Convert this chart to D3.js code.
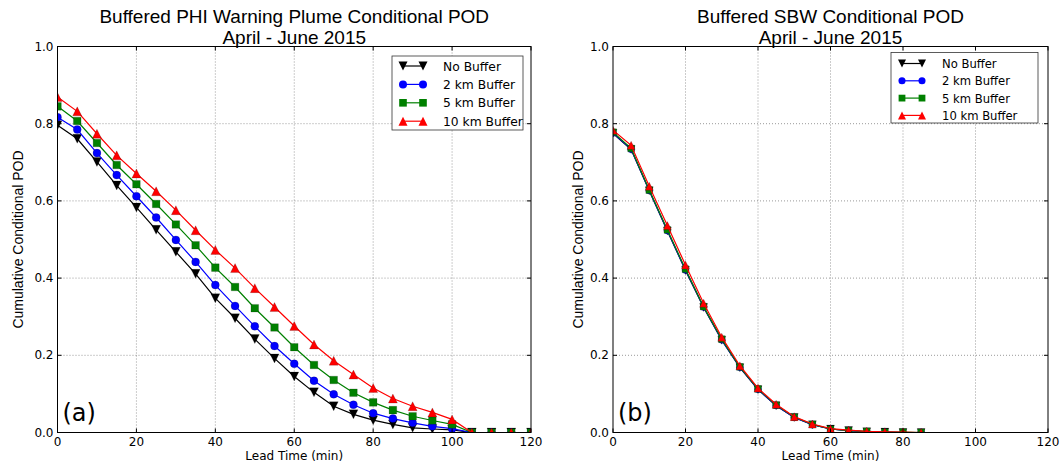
<!DOCTYPE html>
<html>
<head>
<meta charset="utf-8">
<script src="https://cdn.jsdelivr.net/npm/d3@7"></script>
<style>
    body { margin: 0; background: #fff; }
    svg { display: block; }
</style>
</head>
<body>
<div id="chart"></div>
<script>
// lead times (min)
const leadA = d3.range(0, 121, 5);
const leadB = d3.range(0, 86, 5);

// panel (a): buffered PHI warning plume
const phiNoBuffer = [0.796, 0.761, 0.701, 0.640, 0.583, 0.525, 0.468, 0.411, 0.348, 0.296, 0.242, 0.192, 0.145, 0.104, 0.068, 0.047, 0.032, 0.021, 0.012, 0.009, 0.007, 0, 0, 0, 0];
const phi2km = [0.817, 0.785, 0.724, 0.667, 0.612, 0.557, 0.499, 0.442, 0.382, 0.328, 0.275, 0.224, 0.178, 0.134, 0.099, 0.072, 0.050, 0.036, 0.025, 0.016, 0.010, 0, 0, 0, 0];
const phi5km = [0.845, 0.807, 0.750, 0.693, 0.643, 0.592, 0.539, 0.485, 0.427, 0.377, 0.322, 0.272, 0.221, 0.175, 0.136, 0.103, 0.078, 0.058, 0.042, 0.031, 0.021, 0, 0, 0, 0];
const phi10km = [0.869, 0.832, 0.774, 0.718, 0.671, 0.625, 0.576, 0.524, 0.473, 0.426, 0.374, 0.325, 0.276, 0.228, 0.186, 0.150, 0.115, 0.088, 0.068, 0.052, 0.034, 0, 0, 0, 0];

// panel (b): buffered SBW
const sbwNoBuffer = [0.775, 0.733, 0.626, 0.522, 0.420, 0.324, 0.239, 0.168, 0.111, 0.069, 0.039, 0.020, 0.009, 0.005, 0.002, 0.001, 0, 0];
const sbw2km = [0.776, 0.734, 0.627, 0.523, 0.421, 0.325, 0.240, 0.169, 0.112, 0.070, 0.039, 0.020, 0.009, 0.005, 0.002, 0.001, 0, 0];
const sbw5km = [0.778, 0.736, 0.628, 0.525, 0.423, 0.326, 0.242, 0.170, 0.113, 0.071, 0.040, 0.021, 0.009, 0.005, 0.003, 0.001, 0.001, 0];
const sbw10km = [0.783, 0.744, 0.638, 0.536, 0.434, 0.335, 0.247, 0.173, 0.115, 0.073, 0.041, 0.022, 0.010, 0.006, 0.003, 0.002, 0.001, 0];

const seriesNames = ["No Buffer", "2 km Buffer", "5 km Buffer", "10 km Buffer"];
const seriesColors = ["#000000", "#0000ff", "#008000", "#ff0000"];
const seriesMarkers = ["tridown", "circle", "square", "triup"];

const xTicks = [0, 20, 40, 60, 80, 100, 120];
const yTicks = [0.0, 0.2, 0.4, 0.6, 0.8, 1.0];

const svg = d3.select("#chart")
    .append("svg")
    .attr("width", 1064)
    .attr("height", 465);

function markerPath(kind, s) {
    if (kind == "circle") return d3.symbol(d3.symbolCircle, s * s * 0.62)();
    if (kind == "square") return d3.symbol(d3.symbolSquare, s * s * 0.72)();
    let h = s * 0.5;
    if (kind == "triup") return "M0," + (-h) + "L" + h + "," + h + "L" + (-h) + "," + h + "Z";
    return "M0," + h + "L" + h + "," + (-h) + "L" + (-h) + "," + (-h) + "Z";
}

function drawPanel(cfg) {
    const x = d3.scaleLinear().domain([0, 120]).range([cfg.left, cfg.right]);
    const y = d3.scaleLinear().domain([0, 1]).range([cfg.bottom, cfg.top]);
    const g = svg.append("g");

    // grid
    g.selectAll(".gx").data(xTicks.slice(1, -1)).join("line")
        .attr("x1", d => x(d)).attr("x2", d => x(d))
        .attr("y1", cfg.top).attr("y2", cfg.bottom)
        .attr("stroke", "#000").attr("stroke-opacity", 0.5)
        .attr("stroke-width", 0.8).attr("stroke-dasharray", "1,2");
    g.selectAll(".gy").data(yTicks.slice(1, -1)).join("line")
        .attr("y1", d => y(d)).attr("y2", d => y(d))
        .attr("x1", cfg.left).attr("x2", cfg.right)
        .attr("stroke", "#000").attr("stroke-opacity", 0.5)
        .attr("stroke-width", 0.8).attr("stroke-dasharray", "1,2");

    // data
    const clipId = "clip_" + cfg.name;
    svg.append("clipPath").attr("id", clipId)
        .append("rect")
        .attr("x", cfg.left).attr("y", cfg.top)
        .attr("width", cfg.right - cfg.left).attr("height", cfg.bottom - cfg.top);

    const dataG = g.append("g").attr("clip-path", "url(#" + clipId + ")");
    const line = d3.line().x(d => x(d[0])).y(d => y(d[1]));

    cfg.series.forEach(function (vals, i) {
        const pts = cfg.lead.map((t, j) => [t, vals[j]]);
        dataG.append("path")
            .attr("d", line(pts))
            .attr("fill", "none")
            .attr("stroke", seriesColors[i])
            .attr("stroke-width", 1.2);
        dataG.selectAll(null).data(pts).join("path")
            .attr("transform", d => "translate(" + x(d[0]) + "," + y(d[1]) + ")")
            .attr("d", markerPath(seriesMarkers[i], cfg.msize))
            .attr("fill", seriesColors[i])
            .attr("stroke", "#000").attr("stroke-opacity", 0.35)
            .attr("stroke-width", 0.5);
    });

    // frame
    g.append("rect")
        .attr("x", cfg.left).attr("y", cfg.top)
        .attr("width", cfg.right - cfg.left).attr("height", cfg.bottom - cfg.top)
        .attr("fill", "none").attr("stroke", "#000").attr("stroke-width", 1);

    // inward ticks on all four sides
    xTicks.forEach(function (t) {
        g.append("line").attr("x1", x(t)).attr("x2", x(t))
            .attr("y1", cfg.bottom).attr("y2", cfg.bottom - 4).attr("stroke", "#000");
        g.append("line").attr("x1", x(t)).attr("x2", x(t))
            .attr("y1", cfg.top).attr("y2", cfg.top + 4).attr("stroke", "#000");
    });
    yTicks.forEach(function (t) {
        g.append("line").attr("y1", y(t)).attr("y2", y(t))
            .attr("x1", cfg.left).attr("x2", cfg.left + 4).attr("stroke", "#000");
        g.append("line").attr("y1", y(t)).attr("y2", y(t))
            .attr("x1", cfg.right).attr("x2", cfg.right - 4).attr("stroke", "#000");
    });

    // tick labels
    g.selectAll(".xl").data(xTicks).join("text")
        .attr("x", d => x(d)).attr("y", cfg.bottom + 13)
        .attr("text-anchor", "middle")
        .style("font-family", "DejaVu Sans").style("font-size", "12px")
        .text(d => d);
    g.selectAll(".yl").data(yTicks).join("text")
        .attr("x", cfg.left - 4).attr("y", d => y(d) + 4)
        .attr("text-anchor", "end")
        .style("font-family", "DejaVu Sans").style("font-size", "12px")
        .text(d => d.toFixed(1));

    // axis labels
    g.append("text")
        .attr("x", (cfg.left + cfg.right) / 2).attr("y", cfg.bottom + 27)
        .attr("text-anchor", "middle")
        .style("font-family", "DejaVu Sans").style("font-size", "12px")
        .text("Lead Time (min)");
    g.append("text")
        .attr("transform", "translate(" + cfg.ylabX + "," + ((cfg.top + cfg.bottom) / 2) + ") rotate(-90)")
        .attr("text-anchor", "middle")
        .style("font-family", "Liberation Sans").style("font-size", "14px")
        .text("Cumulative Conditional POD");

    // title (two lines)
    cfg.title.forEach(function (s, i) {
        g.append("text")
            .attr("x", (cfg.left + cfg.right) / 2).attr("y", 23 + i * 21)
            .attr("text-anchor", "middle")
            .style("font-family", "Liberation Sans").style("font-size", "19px")
            .text(s);
    });

    // panel letter
    g.append("text")
        .attr("x", cfg.left + 5).attr("y", cfg.bottom - 12)
        .style("font-family", "DejaVu Sans").style("font-size", "24px")
        .text(cfg.letter);

    // legend
    const lg = cfg.legend;
    g.append("rect")
        .attr("x", lg.x).attr("y", lg.y).attr("width", lg.w).attr("height", lg.h)
        .attr("fill", "#fff").attr("stroke", "#000").attr("stroke-opacity", 0.8).attr("stroke-width", 0.8);
    seriesNames.forEach(function (name, i) {
        const ry = lg.y + lg.row0 + i * lg.step;
        const lx = lg.x + 11;
        g.append("line").attr("x1", lx).attr("x2", lx + 20).attr("y1", ry).attr("y2", ry)
            .attr("stroke", seriesColors[i]).attr("stroke-width", 1.2);
        [lx, lx + 20].forEach(function (px) {
            g.append("path")
                .attr("transform", "translate(" + px + "," + ry + ")")
                .attr("d", markerPath(seriesMarkers[i], cfg.msize))
                .attr("fill", seriesColors[i]);
        });
        g.append("text")
            .attr("x", lg.x + lg.tx).attr("y", ry + 4.5)
            .style("font-family", "DejaVu Sans").style("font-size", lg.font)
            .text(name);
    });
}

drawPanel({
    name: "a", letter: "(a)",
    left: 57.5, right: 531, top: 46.5, bottom: 432.5,
    ylabX: 23, msize: 9,
    lead: leadA,
    series: [phiNoBuffer, phi2km, phi5km, phi10km],
    title: ["Buffered PHI Warning Plume Conditional POD", "April - June 2015"],
    legend: { x: 392, y: 56, w: 131, h: 74, row0: 10, step: 18.4, tx: 51, font: "12.3px" }
});

drawPanel({
    name: "b", letter: "(b)",
    left: 613, right: 1048, top: 46.5, bottom: 432.5,
    ylabX: 583, msize: 8,
    lead: leadB,
    series: [sbwNoBuffer, sbw2km, sbw5km, sbw10km],
    title: ["Buffered SBW Conditional POD", "April - June 2015"],
    legend: { x: 891, y: 52.5, w: 147, h: 70.5, row0: 11, step: 17.3, tx: 51, font: "11.6px" }
});
</script>
</body>
</html>
